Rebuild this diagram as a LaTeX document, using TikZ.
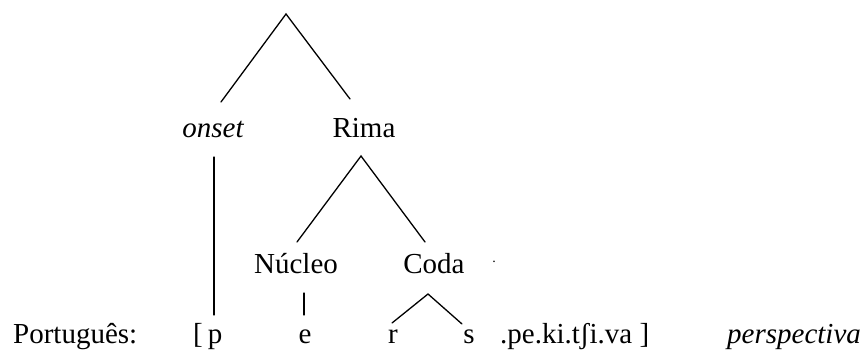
\documentclass[tikz,border=0pt]{standalone}
\usepackage{fontspec}
\setmainfont{Liberation Serif}
\begin{document}
\begin{tikzpicture}[x=1pt,y=-1pt,
  lbl/.style={inner sep=0pt, anchor=base, font=\fontsize{29}{34}\selectfont},
  branch/.style={line width=1.3pt, line cap=round}]
\useasboundingbox (0,0) rectangle (866,350);

% syllable root and its two daughters
\coordinate (root) at (286,14);
\node[lbl] (onset) at (213,137) {\itshape onset};
\node[lbl] (rima)  at (364,137) {Rima};
\coordinate (onsetTop) at (221,102);
\coordinate (rimaTop)  at (350,99);
\draw[branch] (onsetTop) -- (root) -- (rimaTop);

% onset down to the first segment
\coordinate (onsetLow) at (214,157);
\coordinate (pTop) at (214,315);
\draw[branch] (onsetLow) -- (pTop);

% rhyme splits into nucleus and coda
\coordinate (rimaLow) at (361,156);
\coordinate (nucTop)  at (297,242);
\coordinate (codaTop) at (425,242);
\draw[branch] (nucTop) -- (rimaLow) -- (codaTop);
\node[lbl] (nucleo) at (296,273) {Núcleo};
\node[lbl] (coda)   at (434,273) {Coda};
\node[lbl, font=\fontsize{14}{16}\selectfont] (dot) at (494,262) {.};

% nucleus and coda down to the segments
\coordinate (nucLow) at (304,293);
\coordinate (eTop)   at (304,315);
\draw[branch] (nucLow) -- (eTop);
\coordinate (codaLow) at (428,294);
\coordinate (rTop) at (392,323);
\coordinate (sTop) at (462,324);
\draw[branch] (rTop) -- (codaLow) -- (sTop);

% transcription line
\node[lbl, anchor=base west] (lang) at (13,343) {Português:};
\node[lbl] (open) at (198,343) {[};
\node[lbl] (p) at (215,343) {p};
\node[lbl] (e) at (305,343) {e};
\node[lbl] (r) at (393,343) {r};
\node[lbl] (s) at (469,343) {s};
\node[lbl, anchor=base west] (rest) at (500,343) {.pe.ki.tʃi.va ]};
\node[lbl, anchor=base west] (word) at (727,343) {\itshape perspectiva};
\end{tikzpicture}
\end{document}
